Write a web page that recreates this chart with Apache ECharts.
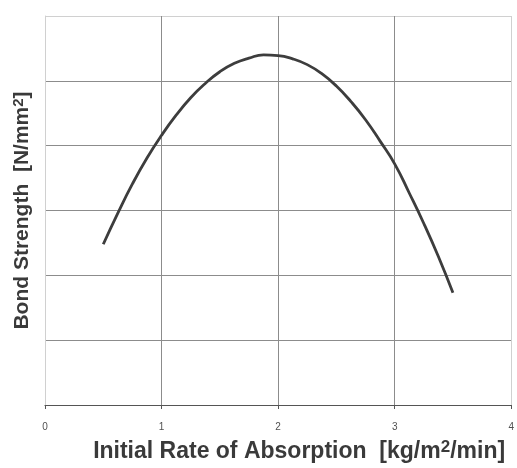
<!DOCTYPE html>
<html>
<head>
<meta charset="utf-8">
<script src="https://cdn.jsdelivr.net/npm/echarts@6/dist/echarts.min.js"></script>
<style>
  html, body { margin: 0; padding: 0; background: #fff; }
  #chart { width: 517px; height: 468px; }
</style>
</head>
<body>
<div id="chart"></div>
<script>
// Initial rate of absorption [kg/m²/min]
const absorptionRate = [
  0.5, 0.625, 0.75, 0.875, 1.0, 1.125, 1.25, 1.375, 1.5, 1.625, 1.75, 1.875, 2.0,
  2.125, 2.25, 2.375, 2.5, 2.625, 2.75, 2.875, 3.0, 3.125, 3.25, 3.375, 3.5
];
// Bond strength [N/mm²]
const bondStrength = [
  2.48, 2.96, 3.41, 3.81, 4.16, 4.47, 4.74, 4.96, 5.14, 5.27, 5.35, 5.40, 5.39,
  5.34, 5.25, 5.11, 4.92, 4.68, 4.40, 4.07, 3.72, 3.27, 2.80, 2.29, 1.73
];
// Axis tick labels
const xTicks = ['0', '1', '2', '3', '4'];

const chart = echarts.init(document.getElementById('chart'), null, { renderer: 'canvas' });

const inner = '#8c8c8c';
const edge = '#d0d0d0';
const font = 'Liberation Sans, Arial, sans-serif';

chart.setOption({
  animation: false,
  backgroundColor: '#ffffff',
  grid: { left: 45, right: 3, top: 16, bottom: 60 },
  xAxis: {
    type: 'value',
    min: 0, max: 4, interval: 1,
    name: 'Initial Rate of Absorption  [kg/m{sup|2}/min]',
    nameLocation: 'middle',
    nameGap: 34,
    nameTextStyle: {
      fontFamily: font,
      fontWeight: 'bold',
      fontSize: 23,
      color: '#3a3a3a',
      padding: [0, 0, 0, 42],
      rich: {
        sup: {
          fontFamily: font,
          fontWeight: 'bold',
          fontSize: 17,
          color: '#3a3a3a',
          verticalAlign: 'top',
          padding: [0, 0, 8, 0]
        }
      }
    },
    axisLine: { show: true, lineStyle: { color: '#555', width: 1.2 } },
    axisTick: { show: true, length: 4, lineStyle: { color: '#555' } },
    axisLabel: {
      margin: 17,
      fontSize: 10,
      color: '#505050',
      fontFamily: font,
      formatter: (v) => xTicks[Math.round(v)]
    },
    splitLine: { show: true, lineStyle: { color: [edge, inner, inner, inner, edge], width: 1 } }
  },
  yAxis: {
    type: 'value',
    min: 0, max: 6, interval: 1,
    name: 'Bond Strength  [N/mm{sup|2}]',
    nameLocation: 'middle',
    nameGap: 12,
    nameTextStyle: {
      fontFamily: font,
      fontWeight: 'bold',
      fontSize: 21,
      color: '#3a3a3a',
      rich: {
        sup: {
          fontFamily: font,
          fontWeight: 'bold',
          fontSize: 15,
          color: '#3a3a3a',
          verticalAlign: 'top',
          padding: [0, 0, 7, 0]
        }
      }
    },
    axisLine: { show: true, lineStyle: { color: edge, width: 1 } },
    axisTick: { show: false },
    axisLabel: { show: false },
    splitLine: { show: true, lineStyle: { color: ['#555', inner, inner, inner, inner, inner, edge], width: 1 } }
  },
  series: [{
    type: 'line',
    data: absorptionRate.map((x, i) => [x, bondStrength[i]]),
    smooth: true,
    showSymbol: false,
    lineStyle: { color: '#3d3d3d', width: 2.8 }
  }]
});
</script>
</body>
</html>
